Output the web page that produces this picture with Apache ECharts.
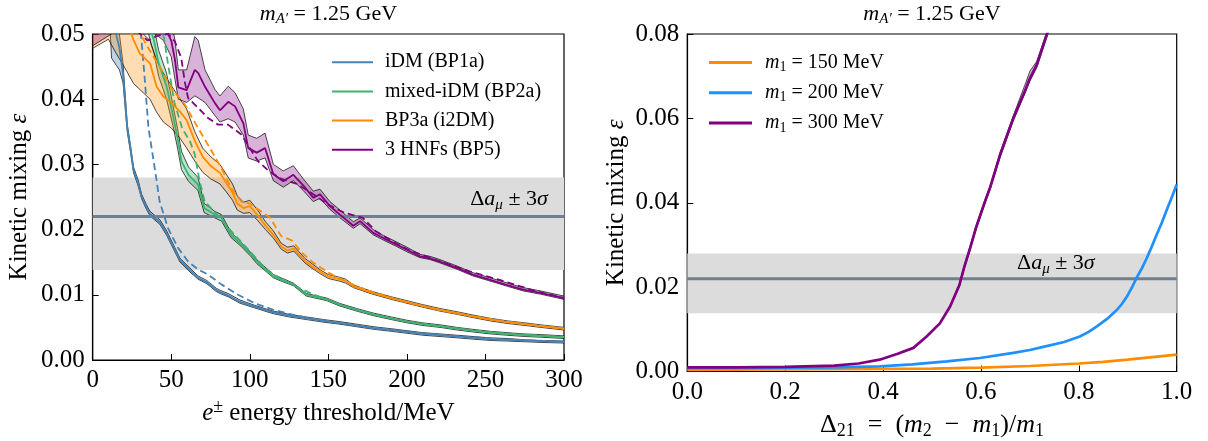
<!DOCTYPE html>
<html>
<head>
<meta charset="utf-8">
<script src="https://cdn.jsdelivr.net/npm/echarts@6/dist/echarts.min.js"></script>
<style>
  html, body { margin: 0; padding: 0; background: #ffffff; }
  #chart { width: 1208px; height: 441px; }
</style>
</head>
<body>
<div id="chart"></div>
<script>
const FONT = 'Liberation Serif';

// ---------- reference band: Δa_μ ± 3σ ----------
const g2Band = [0.0138, 0.0280];
const g2Central = 0.0220;

// ---------- left panel: ε reach vs e± energy threshold (MeV) ----------
const idmX    = [0, 8, 11, 12, 15, 17, 19.3, 22, 24, 26, 28.8, 31.2, 34, 36.5, 42.8, 47.1, 55.6, 61.9, 67, 72.6, 78.7, 81, 86.2, 93.8, 103, 110.8, 115, 125, 136, 147, 157, 168, 179, 190, 200, 210, 221, 232, 242, 253, 264, 275, 285, 300];
const idmMid  = [0.058, 0.054, 0.0525, 0.052, 0.0499, 0.0479, 0.0438, 0.0356, 0.0325, 0.0291, 0.0272, 0.0250, 0.0235, 0.0224, 0.0211, 0.0194, 0.0153, 0.0138, 0.0126, 0.0119, 0.0107, 0.0104, 0.0099, 0.0089, 0.0082, 0.0076, 0.0073, 0.0068, 0.0064, 0.0060, 0.0057, 0.0053, 0.0049, 0.0046, 0.0043, 0.0040, 0.0038, 0.0036, 0.0034, 0.0032, 0.0031, 0.0030, 0.0029, 0.0028];
const idmLow  = [0.056, 0.052, 0.051, 0.0463, 0.0452, 0.0445, 0.0425, 0.0350, 0.0320, 0.0287, 0.0268, 0.0247, 0.0232, 0.0221, 0.0208, 0.0191, 0.0150, 0.0135, 0.0124, 0.0117, 0.0105, 0.0102, 0.0097, 0.0087, 0.0080, 0.0074, 0.0071, 0.0066, 0.0062, 0.0058, 0.0055, 0.0051, 0.0047, 0.0044, 0.0041, 0.0038, 0.0036, 0.0034, 0.0032, 0.0030, 0.0029, 0.0028, 0.0027, 0.0026];
const idmHigh = [0.060, 0.056, 0.0545, 0.054, 0.0525, 0.0500, 0.0455, 0.0362, 0.0330, 0.0296, 0.0277, 0.0254, 0.0239, 0.0228, 0.0215, 0.0198, 0.0156, 0.0141, 0.0129, 0.0122, 0.0110, 0.0107, 0.0102, 0.0092, 0.0084, 0.0078, 0.0075, 0.0070, 0.0066, 0.0062, 0.0059, 0.0055, 0.0051, 0.0048, 0.0045, 0.0042, 0.0040, 0.0038, 0.0036, 0.0034, 0.0033, 0.0031, 0.0030, 0.0029];
const idmAltX = [30, 33, 35.5, 39.5, 42.6, 48, 54.3, 60.7, 67, 73.4, 81.9, 92.5, 103.2, 115, 130, 150, 170, 200, 230, 260, 300];
const idmAlt  = [0.052, 0.0435, 0.0356, 0.0294, 0.0243, 0.0202, 0.0172, 0.0151, 0.0139, 0.0131, 0.0116, 0.0100, 0.0087, 0.0077, 0.0068, 0.0059, 0.0052, 0.0043, 0.0037, 0.0032, 0.0028];

const mixX    = [30, 37, 39, 42, 47, 51, 54, 56.5, 61, 67, 71, 77.7, 82, 88, 94.6, 101, 104.4, 115, 121, 127.7, 136, 149, 157, 168, 178.6, 190, 200, 210, 221, 232, 242, 253, 263.5, 275, 285, 300];
const mixMid  = [0.058, 0.0505, 0.0490, 0.0455, 0.0420, 0.0376, 0.0340, 0.0305, 0.0284, 0.0269, 0.0233, 0.0223, 0.0218, 0.0192, 0.0177, 0.0161, 0.0151, 0.0128, 0.0122, 0.0116, 0.0100, 0.0093, 0.0085, 0.0077, 0.0070, 0.0064, 0.0059, 0.0055, 0.0052, 0.0048, 0.0045, 0.0042, 0.0040, 0.0038, 0.0037, 0.0035];
const mixLow  = [0.056, 0.0485, 0.0470, 0.0435, 0.0400, 0.0360, 0.0325, 0.0292, 0.0274, 0.0260, 0.0226, 0.0218, 0.0213, 0.0188, 0.0174, 0.0158, 0.0148, 0.0126, 0.0120, 0.0114, 0.0098, 0.0091, 0.0083, 0.0075, 0.0068, 0.0062, 0.0057, 0.0053, 0.0050, 0.0046, 0.0043, 0.0040, 0.0038, 0.0036, 0.0035, 0.0033];
const mixHigh = [0.060, 0.0525, 0.0510, 0.0475, 0.0440, 0.0392, 0.0355, 0.0320, 0.0296, 0.0280, 0.0240, 0.0228, 0.0223, 0.0196, 0.0180, 0.0164, 0.0154, 0.0131, 0.0125, 0.0118, 0.0102, 0.0095, 0.0087, 0.0079, 0.0072, 0.0066, 0.0061, 0.0057, 0.0054, 0.0050, 0.0047, 0.0044, 0.0042, 0.0040, 0.0039, 0.0037];
const mixAltX = [40, 45.4, 48, 52, 57, 62, 65, 68, 71.3, 78, 88, 95, 100, 110, 120, 130, 140, 150, 160, 180, 200, 220, 240, 260, 280, 300];
const mixAlt  = [0.053, 0.0494, 0.0453, 0.0395, 0.0355, 0.0335, 0.0315, 0.0275, 0.0243, 0.0226, 0.0198, 0.0180, 0.0167, 0.0140, 0.0124, 0.0112, 0.0101, 0.0092, 0.0083, 0.0069, 0.0059, 0.0052, 0.0046, 0.0041, 0.0038, 0.0035];

const i2dmX    = [0, 10, 15, 20, 26, 30, 36.5, 40.7, 45, 50.3, 55.6, 59.8, 65, 70, 75, 81, 85, 89, 92, 96, 100, 105, 110, 115, 120, 124, 128, 135, 140, 145, 150, 157, 161, 166, 178, 190, 200, 210, 221, 232, 242, 253, 264, 275, 285, 300];
const i2dmMid  = [0.060, 0.057, 0.055, 0.053, 0.0491, 0.0470, 0.0455, 0.0419, 0.0404, 0.0394, 0.0381, 0.0368, 0.0336, 0.0312, 0.0298, 0.0287, 0.0272, 0.0257, 0.0240, 0.0233, 0.0236, 0.0222, 0.0206, 0.0192, 0.0174, 0.0168, 0.0171, 0.0152, 0.0143, 0.0135, 0.0128, 0.0124, 0.0121, 0.0113, 0.0103, 0.0095, 0.0089, 0.0083, 0.0077, 0.0072, 0.0067, 0.0062, 0.0058, 0.0055, 0.0052, 0.0048];
const i2dmLow  = [0.0478, 0.0492, 0.0470, 0.0450, 0.0424, 0.0415, 0.0400, 0.0380, 0.0365, 0.0355, 0.0340, 0.0325, 0.0305, 0.0288, 0.0278, 0.0270, 0.0258, 0.0245, 0.0230, 0.0225, 0.0226, 0.0214, 0.0200, 0.0187, 0.0170, 0.0164, 0.0167, 0.0149, 0.0140, 0.0132, 0.0125, 0.0121, 0.0118, 0.0111, 0.0101, 0.0093, 0.0087, 0.0081, 0.0075, 0.0070, 0.0065, 0.0060, 0.0056, 0.0053, 0.0050, 0.0046];
const i2dmHigh = [0.065, 0.062, 0.060, 0.058, 0.054, 0.0505, 0.0490, 0.0460, 0.0440, 0.0420, 0.0400, 0.0385, 0.0350, 0.0325, 0.0312, 0.0300, 0.0285, 0.0270, 0.0252, 0.0242, 0.0245, 0.0230, 0.0212, 0.0198, 0.0179, 0.0173, 0.0175, 0.0156, 0.0147, 0.0138, 0.0131, 0.0127, 0.0124, 0.0115, 0.0105, 0.0097, 0.0091, 0.0085, 0.0079, 0.0074, 0.0069, 0.0064, 0.0060, 0.0057, 0.0054, 0.0050];
const i2dmAltX = [28, 35, 40, 45, 50, 58.6, 67, 73.4, 82, 88, 94.6, 100, 106, 113, 120, 127, 133, 140, 150, 160, 170, 180, 200, 220, 240, 260, 280, 300];
const i2dmAlt  = [0.051, 0.048, 0.046, 0.044, 0.0417, 0.0392, 0.0356, 0.0330, 0.0294, 0.0264, 0.0243, 0.0240, 0.0230, 0.0218, 0.0190, 0.0183, 0.0165, 0.0150, 0.0134, 0.0122, 0.0111, 0.0103, 0.0088, 0.0077, 0.0068, 0.0060, 0.0054, 0.0048];

const hnfX    = [0, 10, 15, 30, 45, 50, 52.4, 54.5, 59.8, 65, 67.2, 71.5, 77.8, 81, 86.3, 90.6, 95.9, 99, 104.4, 109.7, 115, 121.3, 127.7, 134, 140.4, 144.7, 151, 157.4, 165.9, 170.2, 178.6, 185, 193.5, 200, 208.3, 214.7, 221, 232, 242, 253, 264, 274, 285, 300];
const hnfMid  = [0.062, 0.060, 0.059, 0.056, 0.0515, 0.0490, 0.0460, 0.0418, 0.0414, 0.0445, 0.0440, 0.0419, 0.0394, 0.0383, 0.0396, 0.0389, 0.0363, 0.0325, 0.0318, 0.0325, 0.0285, 0.0274, 0.0284, 0.0268, 0.0249, 0.0254, 0.0236, 0.0223, 0.0206, 0.0213, 0.0195, 0.0187, 0.0177, 0.0169, 0.0159, 0.0156, 0.0151, 0.0141, 0.0131, 0.0123, 0.0115, 0.0108, 0.0103, 0.0095];
const hnfLow  = [0.0482, 0.0497, 0.0505, 0.0520, 0.0490, 0.0465, 0.0430, 0.0400, 0.0395, 0.0405, 0.0402, 0.0395, 0.0375, 0.0365, 0.0370, 0.0365, 0.0345, 0.0310, 0.0305, 0.0310, 0.0275, 0.0265, 0.0275, 0.0260, 0.0243, 0.0248, 0.0231, 0.0218, 0.0202, 0.0209, 0.0192, 0.0184, 0.0174, 0.0166, 0.0157, 0.0154, 0.0149, 0.0139, 0.0129, 0.0121, 0.0113, 0.0106, 0.0101, 0.0093];
const hnfHigh = [0.066, 0.064, 0.063, 0.060, 0.055, 0.052, 0.049, 0.0445, 0.0445, 0.0496, 0.0490, 0.0445, 0.0415, 0.0405, 0.0420, 0.0410, 0.0385, 0.0345, 0.0340, 0.0348, 0.0300, 0.0290, 0.0298, 0.0278, 0.0259, 0.0262, 0.0243, 0.0230, 0.0212, 0.0218, 0.0200, 0.0191, 0.0181, 0.0173, 0.0162, 0.0159, 0.0154, 0.0144, 0.0134, 0.0126, 0.0118, 0.0111, 0.0106, 0.0098];
const hnfAltX = [28, 35, 42, 48, 52.2, 56.4, 58.6, 60.7, 67, 73.4, 79.8, 86.1, 94.6, 105.2, 112, 120, 130, 140, 150, 160, 172, 180, 190, 200, 220, 240, 260, 280, 300];
const hnfAlt  = [0.0505, 0.0490, 0.0498, 0.0500, 0.0489, 0.0463, 0.0427, 0.0402, 0.0387, 0.0371, 0.0361, 0.0361, 0.0346, 0.0305, 0.0290, 0.0278, 0.0270, 0.0255, 0.0238, 0.0226, 0.0218, 0.0198, 0.0183, 0.0170, 0.0152, 0.0136, 0.0122, 0.0107, 0.0095];

// ---------- right panel: ε vs Δ21 = (m2 - m1)/m1 ----------
const m150X = [0, 0.2, 0.4, 0.5, 0.6, 0.7, 0.8, 0.85, 0.9, 0.95, 1.0];
const m150Y = [0.0004, 0.0005, 0.0006, 0.0007, 0.0009, 0.0013, 0.0019, 0.0023, 0.0028, 0.0034, 0.0040];
const m200X = [0, 0.2, 0.3, 0.393, 0.46, 0.53, 0.598, 0.666, 0.70, 0.734, 0.770, 0.802, 0.820, 0.837, 0.857, 0.877, 0.888, 0.898, 0.908, 0.918, 0.929, 0.939, 0.949, 0.959, 0.970, 0.980, 0.990, 1.0];
const m200Y = [0.0008, 0.0009, 0.0010, 0.0012, 0.0017, 0.0024, 0.0032, 0.0044, 0.0051, 0.0060, 0.0070, 0.0083, 0.0094, 0.0107, 0.0124, 0.0145, 0.0160, 0.0177, 0.0198, 0.0222, 0.0245, 0.0269, 0.0296, 0.0324, 0.0354, 0.0384, 0.0413, 0.0443];
const m300X    = [0, 0.1, 0.2, 0.3, 0.35, 0.393, 0.43, 0.462, 0.489, 0.516, 0.537, 0.556, 0.566, 0.578, 0.590, 0.608, 0.619, 0.639, 0.666, 0.690, 0.700, 0.714, 0.735, 0.76];
const m300Y    = [0.0010, 0.0010, 0.0011, 0.0014, 0.0019, 0.0028, 0.0042, 0.0056, 0.0083, 0.0114, 0.0154, 0.0205, 0.0248, 0.0293, 0.0341, 0.0402, 0.0437, 0.0513, 0.0600, 0.0665, 0.0695, 0.0727, 0.0800, 0.0880];
const m300Low  = [0.0010, 0.0010, 0.0011, 0.0014, 0.0019, 0.0028, 0.0042, 0.0056, 0.0083, 0.0114, 0.0154, 0.0201, 0.0244, 0.0288, 0.0336, 0.0397, 0.0432, 0.0507, 0.0594, 0.0660, 0.0688, 0.0720, 0.0794, 0.0874];
const m300High = [0.0010, 0.0010, 0.0011, 0.0014, 0.0019, 0.0028, 0.0042, 0.0056, 0.0083, 0.0114, 0.0154, 0.0209, 0.0252, 0.0298, 0.0346, 0.0407, 0.0442, 0.0519, 0.0606, 0.0680, 0.0712, 0.0735, 0.0806, 0.0886];

// ---------- styling ----------
const C = {
  idm: '#4682b4', mix: '#3cb371', i2dm: '#ff8c00', hnf: '#800080',
  m150: '#ff8c00', m200: '#1e90ff', m300: '#800080',
  bandGray: '#dcdcdc', lineGray: '#708090'
};

function richSet(size) {
  const small = Math.round(size * 0.7);
  const lh = size + 6;
  const base = { fontFamily: FONT, color: '#000', fontSize: size, lineHeight: lh };
  return {
    t: Object.assign({}, base),
    i: Object.assign({}, base, { fontStyle: 'italic' }),
    sub: Object.assign({}, base, { fontSize: small, lineHeight: small, padding: [Math.round(size * 0.5), 0, 0, 0] }),
    isub: Object.assign({}, base, { fontSize: small, lineHeight: small, fontStyle: 'italic', padding: [Math.round(size * 0.5), 0, 0, 0] }),
    sup: Object.assign({}, base, { fontSize: small, lineHeight: small, padding: [0, 0, Math.round(size * 0.5), 0] })
  };
}

function pts(xs, ys) { return xs.map((x, i) => [x, ys[i]]); }

// Shaded uncertainty band between two edge curves, outlined in thin black.
function band(key, xs, lo, hi, fill, ax) {
  return {
    type: 'custom', name: key, xAxisIndex: ax, yAxisIndex: ax,
    clip: true, silent: true, animation: false,
    data: [[xs[0], lo[0]]],
    renderItem: function (params, api) {
      const upper = xs.map((x, i) => api.coord([x, hi[i]]));
      const lower = xs.map((x, i) => api.coord([x, lo[i]]));
      return {
        type: 'group',
        children: [
          { type: 'polygon', shape: { points: upper.concat(lower.slice().reverse()) },
            style: { fill: fill, stroke: null } },
          { type: 'polyline', shape: { points: upper },
            style: { stroke: '#000', lineWidth: 0.7, fill: null } },
          { type: 'polyline', shape: { points: lower },
            style: { stroke: '#000', lineWidth: 0.7, fill: null } }
        ]
      };
    }
  };
}

function curve(name, xs, ys, color, ax, width, dashed) {
  return {
    type: 'line', name: name, xAxisIndex: ax, yAxisIndex: ax, symbol: 'none',
    silent: true, animation: false, color: color,
    lineStyle: { color: color, width: width, type: dashed ? [7, 4] : 'solid' },
    data: pts(xs, ys)
  };
}

function refLine(ax, xmin, xmax, labelX, labelDist) {
  return {
    type: 'line', name: 'g2 ref ' + ax, xAxisIndex: ax, yAxisIndex: ax, symbol: 'none',
    silent: true, animation: false,
    lineStyle: { color: C.lineGray, width: 3 },
    data: [[xmin, g2Central], [xmax, g2Central]],
    markArea: {
      silent: true, itemStyle: { color: C.bandGray },
      data: [[{ yAxis: g2Band[0] }, { yAxis: g2Band[1] }]]
    },
    markPoint: {
      silent: true, symbol: 'circle', symbolSize: 0,
      data: [{
        coord: [labelX, g2Central],
        label: {
          show: true, position: 'top', distance: labelDist,
          formatter: () => '{t|Δ}{i|a}{isub|μ}{t| ± 3}{i|σ}',
          rich: richSet(22)
        }
      }]
    }
  };
}

const series = [
  refLine(0, 0, 300, 265, 3),
  band('iDM band', idmX, idmLow, idmHigh, 'rgba(70,130,180,0.35)', 0),
  curve('iDM alt', idmAltX, idmAlt, C.idm, 0, 1.8, true),
  curve('iDM (BP1a)', idmX, idmMid, C.idm, 0, 1.8, false),
  band('mixed band', mixX, mixLow, mixHigh, 'rgba(60,179,113,0.35)', 0),
  curve('mixed alt', mixAltX, mixAlt, C.mix, 0, 1.8, true),
  curve('mixed-iDM (BP2a)', mixX, mixMid, C.mix, 0, 1.8, false),
  band('i2DM band', i2dmX, i2dmLow, i2dmHigh, 'rgba(255,140,0,0.3)', 0),
  curve('i2DM alt', i2dmAltX, i2dmAlt, C.i2dm, 0, 1.8, true),
  curve('BP3a (i2DM)', i2dmX, i2dmMid, C.i2dm, 0, 1.8, false),
  band('HNF band', hnfX, hnfLow, hnfHigh, 'rgba(128,0,128,0.3)', 0),
  curve('HNF alt', hnfAltX, hnfAlt, C.hnf, 0, 1.8, true),
  curve('3 HNFs (BP5)', hnfX, hnfMid, C.hnf, 0, 1.8, false),

  refLine(1, 0, 1, 0.753, 1),
  curve('m1 = 150 MeV', m150X, m150Y, C.m150, 1, 2.7, false),
  curve('m1 = 200 MeV', m200X, m200Y, C.m200, 1, 2.7, false),
  band('m300 band', m300X, m300Low, m300High, 'rgba(128,0,128,0.3)', 1),
  curve('m1 = 300 MeV', m300X, m300Y, C.m300, 1, 2.7, false)
];

function valueAxis(grid, min, max, step, digits, name, gap, nameSize) {
  return {
    type: 'value', gridIndex: grid, min: min, max: max, interval: step,
    name: name, nameLocation: 'middle', nameGap: gap,
    nameTextStyle: { color: '#000', fontFamily: FONT, fontSize: nameSize || 25, rich: richSet(nameSize || 25) },
    axisLine: { show: true, onZero: false, lineStyle: { color: '#000', width: 1.2 } },
    axisTick: { show: true, inside: true, length: 6, lineStyle: { color: '#000', width: 1 } },
    splitLine: { show: false },
    axisLabel: {
      color: '#000', fontFamily: FONT, fontSize: 25, margin: 8,
      formatter: v => v.toFixed(digits)
    }
  };
}

const option = {
  animation: false,
  backgroundColor: '#ffffff',
  textStyle: { fontFamily: FONT },
  grid: [
    { left: 92.7, top: 34, width: 471.3, height: 326, show: true, borderColor: '#000', borderWidth: 1.2, backgroundColor: 'transparent', outerBoundsMode: 'none' },
    { left: 687.3, top: 34, width: 489.4, height: 337.5, show: true, borderColor: '#000', borderWidth: 1.2, backgroundColor: 'transparent', outerBoundsMode: 'none' }
  ],
  xAxis: [
    valueAxis(0, 0, 300, 50, 0, '{i|e}{sup|±}{t| energy threshold/MeV}', 34),
    valueAxis(1, 0, 1, 0.2, 1, '{t|Δ}{sub|21}{t|\u2002=\u2002(}{i|m}{sub|2}{t|\u2002−\u2002}{i|m}{sub|1}{t|)/}{i|m}{sub|1}', 24, 26)
  ],
  yAxis: [
    valueAxis(0, 0, 0.05, 0.01, 2, '{t|Kinetic mixing }{i|ε}', 58),
    valueAxis(1, 0, 0.08, 0.02, 2, '{t|Kinetic mixing }{i|ε}', 55)
  ],
  legend: [
    {
      data: ['iDM (BP1a)', 'mixed-iDM (BP2a)', 'BP3a (i2DM)', '3 HNFs (BP5)'],
      orient: 'vertical', left: 327, top: 47.2, icon: 'rect',
      itemWidth: 41, itemHeight: 2, itemGap: 9.2, selectedMode: false,
      textStyle: { color: '#000', fontFamily: FONT, fontSize: 20, lineHeight: 20, padding: [0, 0, 0, 7] }
    },
    {
      data: ['m1 = 150 MeV', 'm1 = 200 MeV', 'm1 = 300 MeV'],
      orient: 'vertical', left: 704, top: 45.5, icon: 'rect',
      itemWidth: 43, itemHeight: 3, itemGap: 6.3, selectedMode: false,
      formatter: name => '{i|m}{sub|1}{t|' + name.slice(2) + '}',
      textStyle: { color: '#000', fontFamily: FONT, fontSize: 20, padding: [0, 0, 0, 8], rich: richSet(20) }
    }
  ],
  graphic: [
    { type: 'text', x: 328.4, y: 14, silent: true,
      style: { text: '{i|m}{isub|A′}{t| = 1.25 GeV}', rich: richSet(22), align: 'center', verticalAlign: 'middle' } },
    { type: 'text', x: 932, y: 14, silent: true,
      style: { text: '{i|m}{isub|A′}{t| = 1.25 GeV}', rich: richSet(22), align: 'center', verticalAlign: 'middle' } }
  ],
  series: series
};

const chart = echarts.init(document.getElementById('chart'), null, { renderer: 'canvas' });
chart.setOption(option);
</script>
</body>
</html>
